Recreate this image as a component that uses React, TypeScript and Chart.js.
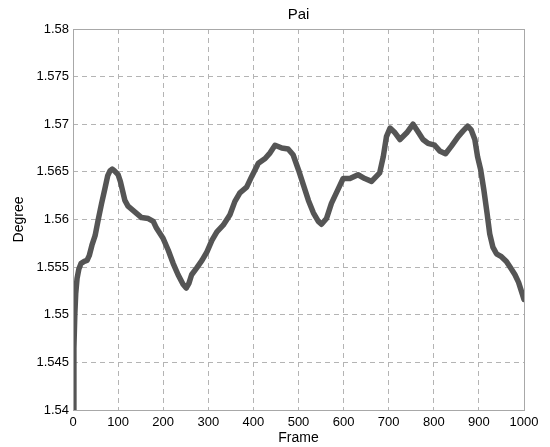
import React, { useEffect, useRef } from "react";
import { Chart, registerables } from "chart.js";

Chart.register(...registerables);

const frames: number[] = [
  0, 2, 4, 6, 9, 13, 18, 25, 31, 36, 42, 49, 56, 63, 71, 77, 82, 87, 92, 100,
  105, 110, 115, 122, 137, 152, 167, 178, 185, 200, 211, 222, 233, 244, 251, 257,
  263, 274, 286, 297, 308, 319, 333, 348, 359, 370, 385, 396, 411, 426, 437, 448,
  463, 477, 488, 500, 511, 522, 533, 544, 551, 562, 573, 585, 599, 614, 632, 647,
  662, 680, 688, 695, 703, 714, 725, 740, 754, 765, 776, 787, 802, 813, 826, 839,
  854, 865, 875, 883, 891, 897, 904, 911, 918, 924, 931, 939, 950, 961, 972, 980,
  988, 996, 1000,
];

const degrees: number[] = [
  1.54, 1.5465, 1.55, 1.5522, 1.5538, 1.5548, 1.5554, 1.5556, 1.5557, 1.5562,
  1.5573, 1.5583, 1.56, 1.5616, 1.5633, 1.5646, 1.5651, 1.5653, 1.5651, 1.5647,
  1.564, 1.563, 1.562, 1.5614, 1.5608, 1.5602, 1.5601, 1.5598, 1.5591, 1.558,
  1.5568, 1.5554, 1.5542, 1.5532, 1.5528, 1.5533, 1.5542, 1.5549, 1.5557, 1.5566,
  1.5578, 1.5587, 1.5594, 1.5605, 1.5619, 1.5628, 1.5634, 1.5645, 1.5659, 1.5664,
  1.567, 1.5678, 1.5675, 1.5674, 1.5668, 1.5652, 1.5636, 1.562, 1.5607, 1.5598,
  1.5595, 1.5601, 1.5617, 1.5629, 1.5643, 1.5643, 1.5647, 1.5643, 1.564, 1.5649,
  1.5666, 1.5687, 1.5696, 1.5691, 1.5684, 1.5691, 1.57, 1.5692, 1.5684, 1.568,
  1.5678, 1.5672, 1.5669, 1.5677, 1.5687, 1.5693, 1.5698, 1.5694, 1.5684, 1.5666,
  1.5652, 1.5631, 1.5607, 1.5585, 1.5571, 1.5564, 1.5561, 1.5556, 1.5548, 1.5542,
  1.5534, 1.5522, 1.5516,
];

const xTicks: number[] = [0, 100, 200, 300, 400, 500, 600, 700, 800, 900, 1000];
const yTicks: number[] = [1.54, 1.545, 1.55, 1.555, 1.56, 1.565, 1.57, 1.575, 1.58];

const chartTitle = "Pai";
const xLabel = "Frame";
const yLabel = "Degree";

const FONT = "'Liberation Sans', Arial, Helvetica, sans-serif";

const boxPlugin = {
  id: "boxAndTitle",
  afterDraw(chart: any) {
    const { ctx, chartArea } = chart;
    ctx.save();
    ctx.strokeStyle = "#a8a8a8";
    ctx.lineWidth = 1;
    ctx.setLineDash([]);
    ctx.strokeRect(
      Math.round(chartArea.left) + 0.5,
      Math.round(chartArea.top) + 0.5,
      Math.round(chartArea.right - chartArea.left),
      Math.round(chartArea.bottom - chartArea.top)
    );
    ctx.fillStyle = "#000";
    ctx.font = `15px ${FONT}`;
    ctx.textAlign = "center";
    ctx.textBaseline = "middle";
    ctx.fillText(chartTitle, (chartArea.left + chartArea.right) / 2, 15);
    ctx.restore();
  },
};

export default function App() {
  const ref = useRef<HTMLCanvasElement | null>(null);

  useEffect(() => {
    if (!ref.current) return;
    const chart = new Chart(ref.current, {
      type: "scatter",
      data: {
        datasets: [
          {
            data: frames.map((f, i) => ({ x: f, y: degrees[i] })),
            showLine: true,
            borderColor: "#555555",
            borderWidth: 5.5,
            pointRadius: 0,
            fill: false,
            tension: 0,
            borderJoinStyle: "round",
            borderCapStyle: "round",
          } as any,
        ],
      },
      plugins: [boxPlugin],
      options: {
        animation: false,
        responsive: false,
        maintainAspectRatio: false,
        layout: { padding: { left: 0, top: 29, right: 26, bottom: 0 } },
        plugins: {
          legend: { display: false },
          tooltip: { enabled: false },
          title: { display: false },
        },
        scales: {
          x: {
            type: "linear",
            min: 0,
            max: 1000,
            afterBuildTicks: (scale: any) => {
              scale.ticks = xTicks.map((v) => ({ value: v }));
            },
            afterFit: (scale: any) => {
              scale.height = 37;
            },
            ticks: {
              color: "#000",
              font: { family: FONT, size: 13 },
              padding: 5,
              maxRotation: 0,
              autoSkip: false,
              callback: (v: any) => String(v),
            },
            grid: {
              color: "#b4b4b4",
              lineWidth: 1,
              drawTicks: false,
            },
            border: { display: false, dash: [5, 4] },
            title: {
              display: true,
              text: xLabel,
              color: "#000",
              font: { family: FONT, size: 14 },
              padding: { top: 0, bottom: 0 },
            },
          },
          y: {
            type: "linear",
            min: 1.54,
            max: 1.58,
            afterBuildTicks: (scale: any) => {
              scale.ticks = yTicks.map((v) => ({ value: v }));
            },
            afterFit: (scale: any) => {
              scale.width = 73;
            },
            ticks: {
              color: "#000",
              font: { family: FONT, size: 13 },
              padding: 4,
              autoSkip: false,
              callback: (v: any) => String(parseFloat(Number(v).toFixed(3))),
            },
            grid: {
              color: "#b4b4b4",
              lineWidth: 1,
              drawTicks: false,
            },
            border: { display: false, dash: [5, 4] },
            title: {
              display: true,
              text: yLabel,
              color: "#000",
              font: { family: FONT, size: 14 },
              padding: { top: 11, bottom: 0 },
            },
          },
        },
      } as any,
    });
    return () => chart.destroy();
  }, []);

  return (
    <div style={{ position: "fixed", left: 0, top: 0, width: 550, height: 447, background: "#fff" }}>
      <canvas ref={ref} width={550} height={447} style={{ width: 550, height: 447 }} />
    </div>
  );
}
